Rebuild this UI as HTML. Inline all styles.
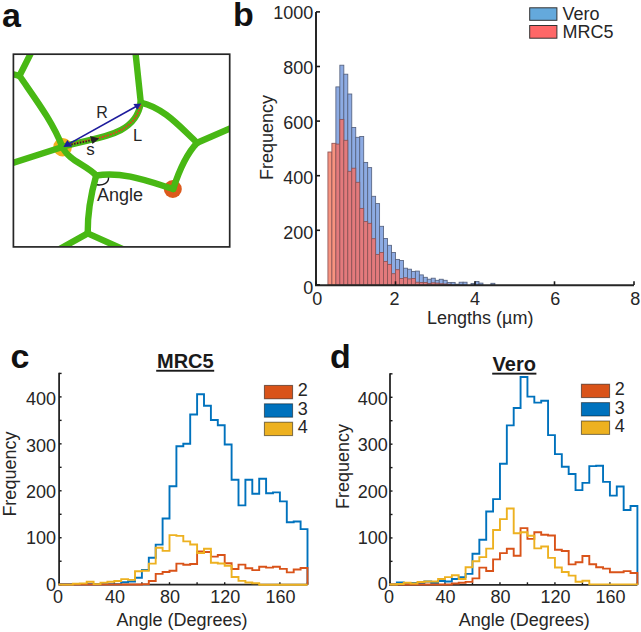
<!DOCTYPE html><html><head><meta charset="utf-8"><style>html,body{margin:0;padding:0;background:#fff;width:641px;height:632px;overflow:hidden}svg{display:block}text{font-family:"Liberation Sans", sans-serif}</style></head><body>
<svg width="641" height="632" viewBox="0 0 641 632">
<rect x="0" y="0" width="641" height="632" fill="#fff"/>
<text x="2.0" y="26.6" font-size="34" text-anchor="start" font-weight="bold" fill="#111" >a</text>
<text x="233.0" y="26.0" font-size="34" text-anchor="start" font-weight="bold" fill="#111" >b</text>
<text x="10.5" y="368.0" font-size="34" text-anchor="start" font-weight="bold" fill="#111" >c</text>
<text x="330.0" y="368.0" font-size="34" text-anchor="start" font-weight="bold" fill="#111" >d</text>
<defs><clipPath id="fr"><rect x="13.5" y="54.5" width="216" height="192"/></clipPath></defs>
<g clip-path="url(#fr)">
<circle cx="62.6" cy="147.2" r="9.3" fill="#F2B01E"/>
<circle cx="172.8" cy="189" r="9" fill="#DC5A1C"/>
<path d="M33.50,48.00 L19.50,75.80" fill="none" stroke="#48B814" stroke-width="6.4" stroke-linejoin="round" stroke-linecap="round"/>
<path d="M19.50,75.80 L10.00,73.50" fill="none" stroke="#48B814" stroke-width="6.4" stroke-linejoin="round" stroke-linecap="round"/>
<path d="M19.50,75.80 C35.05,98.64 52.34,120.99 62.40,147.00" fill="none" stroke="#48B814" stroke-width="6.4" stroke-linejoin="round" stroke-linecap="round"/>
<path d="M8.00,164.50 L62.40,147.00" fill="none" stroke="#48B814" stroke-width="6.4" stroke-linejoin="round" stroke-linecap="round"/>
<path d="M62.40,147.00 C69.02,161.19 86.07,164.70 96.20,175.50" fill="none" stroke="#48B814" stroke-width="6.4" stroke-linejoin="round" stroke-linecap="round"/>
<path d="M62.40,147.00 C89.15,137.24 135.44,139.16 140.80,102.60" fill="none" stroke="#48B814" stroke-width="6.4" stroke-linejoin="round" stroke-linecap="round"/>
<path d="M135.00,48.00 L140.80,102.60" fill="none" stroke="#48B814" stroke-width="6.4" stroke-linejoin="round" stroke-linecap="round"/>
<path d="M140.80,102.60 C164.24,107.86 180.32,127.34 197.20,142.80" fill="none" stroke="#48B814" stroke-width="6.4" stroke-linejoin="round" stroke-linecap="round"/>
<path d="M197.20,142.80 L236.00,126.00" fill="none" stroke="#48B814" stroke-width="6.4" stroke-linejoin="round" stroke-linecap="round"/>
<path d="M197.20,142.80 Q183.40,157.10 173.20,189.00" fill="none" stroke="#48B814" stroke-width="6.4" stroke-linejoin="round" stroke-linecap="round"/>
<path d="M96.20,175.50 C122.56,171.07 148.50,181.31 173.20,189.00" fill="none" stroke="#48B814" stroke-width="6.4" stroke-linejoin="round" stroke-linecap="round"/>
<path d="M96.20,175.50 C90.82,194.30 87.49,213.80 87.70,233.40" fill="none" stroke="#48B814" stroke-width="6.4" stroke-linejoin="round" stroke-linecap="round"/>
<path d="M87.70,233.40 L45.00,257.20" fill="none" stroke="#48B814" stroke-width="6.4" stroke-linejoin="round" stroke-linecap="round"/>
<path d="M87.70,233.40 L136.00,255.00" fill="none" stroke="#48B814" stroke-width="6.4" stroke-linejoin="round" stroke-linecap="round"/>
</g>
<rect x="13.4" y="54.2" width="216.3" height="192.7" fill="none" stroke="#262626" stroke-width="1.7"/>
<path d="M68.00,145.20 C93.68,137.44 133.97,137.29 140.60,104.50" fill="none" stroke="#E2401E" stroke-width="1.9" stroke-dasharray="1.7 1.2"/>
<path d="M67,145.4 L92,140.2" fill="none" stroke="#222" stroke-width="1.8" stroke-dasharray="1.4 1.5" stroke-dashoffset="1.4"/>
<path d="M99.2,138.6 L90,135.9 L92.5,144.0 Z" fill="#222"/>
<path d="M68,144.4 L136.5,106.3" fill="none" stroke="#1D1B9C" stroke-width="1.6"/>
<path d="M63.4,146.9 L67.3,139.9 L72.2,146.5 Z" fill="#1D1B9C"/>
<path d="M141.2,103.6 L133.4,104.0 L137.3,109.8 Z" fill="#1D1B9C"/>
<path d="M108.6,177.5 C108.6,183.2 103,185.6 97,184.8" fill="none" stroke="#1a1a1a" stroke-width="1.4"/>
<text x="96.3" y="118.1" font-size="16" text-anchor="start" font-weight="normal" fill="#262626" >R</text>
<text x="133.0" y="140.8" font-size="16.5" text-anchor="start" font-weight="normal" fill="#262626" >L</text>
<text x="86.3" y="155.4" font-size="17" text-anchor="start" font-weight="normal" fill="#262626" >s</text>
<text x="97.0" y="200.6" font-size="18" text-anchor="start" font-weight="normal" fill="#262626" >Angle</text>
<rect x="335.88" y="86.90" width="3.98" height="198.10" fill="#8DABE3" stroke="#56627F" stroke-width="0.85"/>
<rect x="339.85" y="65.20" width="3.98" height="219.80" fill="#8DABE3" stroke="#56627F" stroke-width="0.85"/>
<rect x="343.82" y="74.20" width="3.98" height="210.80" fill="#8DABE3" stroke="#56627F" stroke-width="0.85"/>
<rect x="347.80" y="94.00" width="3.98" height="191.00" fill="#8DABE3" stroke="#56627F" stroke-width="0.85"/>
<rect x="351.77" y="127.50" width="3.98" height="157.50" fill="#8DABE3" stroke="#56627F" stroke-width="0.85"/>
<rect x="355.75" y="137.30" width="3.98" height="147.70" fill="#8DABE3" stroke="#56627F" stroke-width="0.85"/>
<rect x="359.73" y="136.50" width="3.98" height="148.50" fill="#8DABE3" stroke="#56627F" stroke-width="0.85"/>
<rect x="363.70" y="162.40" width="3.98" height="122.60" fill="#8DABE3" stroke="#56627F" stroke-width="0.85"/>
<rect x="367.68" y="167.60" width="3.98" height="117.40" fill="#8DABE3" stroke="#56627F" stroke-width="0.85"/>
<rect x="371.65" y="196.30" width="3.98" height="88.70" fill="#8DABE3" stroke="#56627F" stroke-width="0.85"/>
<rect x="375.62" y="203.60" width="3.98" height="81.40" fill="#8DABE3" stroke="#56627F" stroke-width="0.85"/>
<rect x="379.60" y="226.30" width="3.98" height="58.70" fill="#8DABE3" stroke="#56627F" stroke-width="0.85"/>
<rect x="383.57" y="238.50" width="3.98" height="46.50" fill="#8DABE3" stroke="#56627F" stroke-width="0.85"/>
<rect x="387.55" y="245.30" width="3.98" height="39.70" fill="#8DABE3" stroke="#56627F" stroke-width="0.85"/>
<rect x="391.52" y="252.50" width="3.98" height="32.50" fill="#8DABE3" stroke="#56627F" stroke-width="0.85"/>
<rect x="395.50" y="259.40" width="3.98" height="25.60" fill="#8DABE3" stroke="#56627F" stroke-width="0.85"/>
<rect x="399.48" y="260.50" width="3.98" height="24.50" fill="#8DABE3" stroke="#56627F" stroke-width="0.85"/>
<rect x="403.45" y="268.20" width="3.98" height="16.80" fill="#8DABE3" stroke="#56627F" stroke-width="0.85"/>
<rect x="407.43" y="269.20" width="3.98" height="15.80" fill="#8DABE3" stroke="#56627F" stroke-width="0.85"/>
<rect x="411.40" y="271.40" width="3.98" height="13.60" fill="#8DABE3" stroke="#56627F" stroke-width="0.85"/>
<rect x="415.38" y="271.10" width="3.98" height="13.90" fill="#8DABE3" stroke="#56627F" stroke-width="0.85"/>
<rect x="419.35" y="274.90" width="3.98" height="10.10" fill="#8DABE3" stroke="#56627F" stroke-width="0.85"/>
<rect x="423.32" y="277.30" width="3.98" height="7.70" fill="#8DABE3" stroke="#56627F" stroke-width="0.85"/>
<rect x="427.30" y="279.20" width="3.98" height="5.80" fill="#8DABE3" stroke="#56627F" stroke-width="0.85"/>
<rect x="431.27" y="278.20" width="3.98" height="6.80" fill="#8DABE3" stroke="#56627F" stroke-width="0.85"/>
<rect x="435.25" y="280.30" width="3.98" height="4.70" fill="#8DABE3" stroke="#56627F" stroke-width="0.85"/>
<rect x="439.23" y="279.25" width="3.98" height="5.75" fill="#8DABE3" stroke="#56627F" stroke-width="0.85"/>
<rect x="443.20" y="280.30" width="3.98" height="4.70" fill="#8DABE3" stroke="#56627F" stroke-width="0.85"/>
<rect x="447.17" y="282.50" width="3.98" height="2.50" fill="#8DABE3" stroke="#56627F" stroke-width="0.85"/>
<rect x="451.15" y="282.40" width="3.98" height="2.60" fill="#8DABE3" stroke="#56627F" stroke-width="0.85"/>
<rect x="455.12" y="284.20" width="3.98" height="0.80" fill="#8DABE3" stroke="#56627F" stroke-width="0.85"/>
<rect x="459.10" y="282.20" width="3.98" height="2.80" fill="#8DABE3" stroke="#56627F" stroke-width="0.85"/>
<rect x="463.08" y="282.20" width="3.98" height="2.80" fill="#8DABE3" stroke="#56627F" stroke-width="0.85"/>
<rect x="471.02" y="283.40" width="3.98" height="1.60" fill="#8DABE3" stroke="#56627F" stroke-width="0.85"/>
<rect x="475.00" y="281.50" width="3.98" height="3.50" fill="#8DABE3" stroke="#56627F" stroke-width="0.85"/>
<rect x="478.98" y="283.10" width="3.98" height="1.90" fill="#8DABE3" stroke="#56627F" stroke-width="0.85"/>
<rect x="490.90" y="283.30" width="3.98" height="1.70" fill="#8DABE3" stroke="#56627F" stroke-width="0.85"/>
<rect x="327.93" y="152.00" width="3.98" height="133.00" fill="#F7937F" stroke="#8C5456" stroke-width="0.85"/>
<rect x="331.90" y="143.30" width="3.98" height="141.70" fill="#F7937F" stroke="#8C5456" stroke-width="0.85"/>
<rect x="335.88" y="144.10" width="3.98" height="140.90" fill="#E37A7C" stroke="#8C5456" stroke-width="0.85"/>
<rect x="339.85" y="119.40" width="3.98" height="165.60" fill="#E37A7C" stroke="#8C5456" stroke-width="0.85"/>
<rect x="343.82" y="140.30" width="3.98" height="144.70" fill="#E37A7C" stroke="#8C5456" stroke-width="0.85"/>
<rect x="347.80" y="171.30" width="3.98" height="113.70" fill="#E37A7C" stroke="#8C5456" stroke-width="0.85"/>
<rect x="351.77" y="168.20" width="3.98" height="116.80" fill="#E37A7C" stroke="#8C5456" stroke-width="0.85"/>
<rect x="355.75" y="182.30" width="3.98" height="102.70" fill="#E37A7C" stroke="#8C5456" stroke-width="0.85"/>
<rect x="359.73" y="208.40" width="3.98" height="76.60" fill="#E37A7C" stroke="#8C5456" stroke-width="0.85"/>
<rect x="363.70" y="221.60" width="3.98" height="63.40" fill="#E37A7C" stroke="#8C5456" stroke-width="0.85"/>
<rect x="367.68" y="223.30" width="3.98" height="61.70" fill="#E37A7C" stroke="#8C5456" stroke-width="0.85"/>
<rect x="371.65" y="238.70" width="3.98" height="46.30" fill="#E37A7C" stroke="#8C5456" stroke-width="0.85"/>
<rect x="375.62" y="254.40" width="3.98" height="30.60" fill="#E37A7C" stroke="#8C5456" stroke-width="0.85"/>
<rect x="379.60" y="252.50" width="3.98" height="32.50" fill="#E37A7C" stroke="#8C5456" stroke-width="0.85"/>
<rect x="383.57" y="261.40" width="3.98" height="23.60" fill="#E37A7C" stroke="#8C5456" stroke-width="0.85"/>
<rect x="387.55" y="264.40" width="3.98" height="20.60" fill="#E37A7C" stroke="#8C5456" stroke-width="0.85"/>
<rect x="391.52" y="273.70" width="3.98" height="11.30" fill="#E37A7C" stroke="#8C5456" stroke-width="0.85"/>
<rect x="395.50" y="269.70" width="3.98" height="15.30" fill="#E37A7C" stroke="#8C5456" stroke-width="0.85"/>
<rect x="399.48" y="278.50" width="3.98" height="6.50" fill="#E37A7C" stroke="#8C5456" stroke-width="0.85"/>
<rect x="403.45" y="277.70" width="3.98" height="7.30" fill="#E37A7C" stroke="#8C5456" stroke-width="0.85"/>
<rect x="407.43" y="278.90" width="3.98" height="6.10" fill="#E37A7C" stroke="#8C5456" stroke-width="0.85"/>
<rect x="411.40" y="278.50" width="3.98" height="6.50" fill="#E37A7C" stroke="#8C5456" stroke-width="0.85"/>
<rect x="415.38" y="282.20" width="3.98" height="2.80" fill="#E37A7C" stroke="#8C5456" stroke-width="0.85"/>
<rect x="419.35" y="282.50" width="3.98" height="2.50" fill="#E37A7C" stroke="#8C5456" stroke-width="0.85"/>
<rect x="423.32" y="282.50" width="3.98" height="2.50" fill="#E37A7C" stroke="#8C5456" stroke-width="0.85"/>
<rect x="427.30" y="283.50" width="3.98" height="1.50" fill="#E37A7C" stroke="#8C5456" stroke-width="0.85"/>
<rect x="431.27" y="282.80" width="3.98" height="2.20" fill="#E37A7C" stroke="#8C5456" stroke-width="0.85"/>
<rect x="435.25" y="283.10" width="3.98" height="1.90" fill="#E37A7C" stroke="#8C5456" stroke-width="0.85"/>
<rect x="439.23" y="283.75" width="3.98" height="1.25" fill="#E37A7C" stroke="#8C5456" stroke-width="0.85"/>
<rect x="443.20" y="284.00" width="3.98" height="1.00" fill="#E37A7C" stroke="#8C5456" stroke-width="0.85"/>
<rect x="447.17" y="284.30" width="3.98" height="0.70" fill="#E37A7C" stroke="#8C5456" stroke-width="0.85"/>
<path d="M316,11.9 L316,285.3 L634,285.3" fill="none" stroke="#262626" stroke-width="2"/>
<path d="M316,284.90 L320,284.90" stroke="#1a1a1a" stroke-width="1.6"/>
<path d="M316,230.30 L320,230.30" stroke="#1a1a1a" stroke-width="1.6"/>
<path d="M316,175.70 L320,175.70" stroke="#1a1a1a" stroke-width="1.6"/>
<path d="M316,121.10 L320,121.10" stroke="#1a1a1a" stroke-width="1.6"/>
<path d="M316,66.50 L320,66.50" stroke="#1a1a1a" stroke-width="1.6"/>
<path d="M316,11.90 L320,11.90" stroke="#1a1a1a" stroke-width="1.6"/>
<path d="M316.00,285 L316.00,281.3" stroke="#1a1a1a" stroke-width="1.6"/>
<path d="M395.50,285 L395.50,281.3" stroke="#1a1a1a" stroke-width="1.6"/>
<path d="M475.00,285 L475.00,281.3" stroke="#1a1a1a" stroke-width="1.6"/>
<path d="M554.50,285 L554.50,281.3" stroke="#1a1a1a" stroke-width="1.6"/>
<path d="M634.00,285 L634.00,281.3" stroke="#1a1a1a" stroke-width="1.6"/>
<text x="313.3" y="293.9" font-size="18" text-anchor="end" font-weight="normal" fill="#262626" >0</text>
<text x="313.3" y="238.84" font-size="18" text-anchor="end" font-weight="normal" fill="#262626" >200</text>
<text x="313.3" y="183.78" font-size="18" text-anchor="end" font-weight="normal" fill="#262626" >400</text>
<text x="313.3" y="128.72" font-size="18" text-anchor="end" font-weight="normal" fill="#262626" >600</text>
<text x="313.3" y="73.66" font-size="18" text-anchor="end" font-weight="normal" fill="#262626" >800</text>
<text x="313.3" y="18.6" font-size="18" text-anchor="end" font-weight="normal" fill="#262626" >1000</text>
<text x="317.3" y="305.0" font-size="18" text-anchor="middle" font-weight="normal" fill="#262626" >0</text>
<text x="394.6" y="305.0" font-size="18" text-anchor="middle" font-weight="normal" fill="#262626" >2</text>
<text x="474.9" y="305.0" font-size="18" text-anchor="middle" font-weight="normal" fill="#262626" >4</text>
<text x="555.3" y="305.0" font-size="18" text-anchor="middle" font-weight="normal" fill="#262626" >6</text>
<text x="635.3" y="305.0" font-size="18" text-anchor="middle" font-weight="normal" fill="#262626" >8</text>
<text x="427.0" y="323.7" font-size="18" text-anchor="start" font-weight="normal" fill="#262626" >Lengths (µm)</text>
<text x="272.8" y="137.4" font-size="18" text-anchor="middle" fill="#262626" transform="rotate(-90 272.8 137.4)" >Frequency</text>
<rect x="529.7" y="7.8" width="27.2" height="12.5" fill="#64A9DC" stroke="#333" stroke-width="1"/>
<rect x="529.7" y="25.5" width="27.2" height="12.7" fill="#FE6767" stroke="#333" stroke-width="1"/>
<text x="562.5" y="19.8" font-size="18" text-anchor="start" font-weight="normal" fill="#262626" >Vero</text>
<text x="562.5" y="37.5" font-size="18" text-anchor="start" font-weight="normal" fill="#262626" >MRC5</text>
<path d="M59.10,372.70 L59.10,584.70 L307.50,584.70" fill="none" stroke="#262626" stroke-width="1.8"/>
<path d="M59.10,584.70 L61.60,584.70" stroke="#1a1a1a" stroke-width="1.4"/>
<path d="M59.10,561.23 L61.60,561.23" stroke="#1a1a1a" stroke-width="1.4"/>
<path d="M59.10,537.75 L61.60,537.75" stroke="#1a1a1a" stroke-width="1.4"/>
<path d="M59.10,514.28 L61.60,514.28" stroke="#1a1a1a" stroke-width="1.4"/>
<path d="M59.10,490.80 L61.60,490.80" stroke="#1a1a1a" stroke-width="1.4"/>
<path d="M59.10,467.33 L61.60,467.33" stroke="#1a1a1a" stroke-width="1.4"/>
<path d="M59.10,443.85 L61.60,443.85" stroke="#1a1a1a" stroke-width="1.4"/>
<path d="M59.10,420.38 L61.60,420.38" stroke="#1a1a1a" stroke-width="1.4"/>
<path d="M59.10,396.90 L61.60,396.90" stroke="#1a1a1a" stroke-width="1.4"/>
<path d="M59.10,373.43 L61.60,373.43" stroke="#1a1a1a" stroke-width="1.4"/>
<path d="M59.10,584.70 L59.10,582.20" stroke="#1a1a1a" stroke-width="1.4"/>
<path d="M86.70,584.70 L86.70,582.20" stroke="#1a1a1a" stroke-width="1.4"/>
<path d="M114.30,584.70 L114.30,582.20" stroke="#1a1a1a" stroke-width="1.4"/>
<path d="M141.90,584.70 L141.90,582.20" stroke="#1a1a1a" stroke-width="1.4"/>
<path d="M169.50,584.70 L169.50,582.20" stroke="#1a1a1a" stroke-width="1.4"/>
<path d="M197.10,584.70 L197.10,582.20" stroke="#1a1a1a" stroke-width="1.4"/>
<path d="M224.70,584.70 L224.70,582.20" stroke="#1a1a1a" stroke-width="1.4"/>
<path d="M252.30,584.70 L252.30,582.20" stroke="#1a1a1a" stroke-width="1.4"/>
<path d="M279.90,584.70 L279.90,582.20" stroke="#1a1a1a" stroke-width="1.4"/>
<path d="M307.50,584.70 L307.50,582.20" stroke="#1a1a1a" stroke-width="1.4"/>
<path d="M59.10,584.70 L59.10,584.30 L66.00,584.30 L66.00,584.30 L72.90,584.30 L72.90,584.30 L79.80,584.30 L79.80,584.30 L86.70,584.30 L86.70,584.30 L93.60,584.30 L93.60,584.30 L100.50,584.30 L100.50,584.30 L107.40,584.30 L107.40,584.30 L114.30,584.30 L114.30,584.30 L121.20,584.30 L121.20,582.20 L128.10,582.20 L128.10,581.50 L135.00,581.50 L135.00,577.80 L141.90,577.80 L141.90,569.90 L148.80,569.90 L148.80,557.70 L155.70,557.70 L155.70,544.60 L162.60,544.60 L162.60,518.50 L169.50,518.50 L169.50,486.20 L176.40,486.20 L176.40,446.20 L183.30,446.20 L183.30,443.80 L190.20,443.80 L190.20,414.50 L197.10,414.50 L197.10,394.20 L204.00,394.20 L204.00,405.70 L210.90,405.70 L210.90,420.00 L217.80,420.00 L217.80,425.30 L224.70,425.30 L224.70,444.50 L231.60,444.50 L231.60,479.70 L238.50,479.70 L238.50,505.40 L245.40,505.40 L245.40,479.70 L252.30,479.70 L252.30,493.80 L259.20,493.80 L259.20,478.80 L266.10,478.80 L266.10,493.20 L273.00,493.20 L273.00,492.40 L279.90,492.40 L279.90,501.40 L286.80,501.40 L286.80,522.30 L293.70,522.30 L293.70,521.50 L300.60,521.50 L300.60,529.10 L307.50,529.10 L307.50,584.70" fill="none" stroke="#0072BD" stroke-width="1.9" stroke-linejoin="miter"/>
<path d="M59.10,584.70 L59.10,584.50 L66.00,584.50 L66.00,584.50 L72.90,584.50 L72.90,584.50 L79.80,584.50 L79.80,584.50 L86.70,584.50 L86.70,584.50 L93.60,584.50 L93.60,584.50 L100.50,584.50 L100.50,584.50 L107.40,584.50 L107.40,584.50 L114.30,584.50 L114.30,584.50 L121.20,584.50 L121.20,584.50 L128.10,584.50 L128.10,584.50 L135.00,584.50 L135.00,584.50 L141.90,584.50 L141.90,584.10 L148.80,584.10 L148.80,581.00 L155.70,581.00 L155.70,573.90 L162.60,573.90 L162.60,572.00 L169.50,572.00 L169.50,570.70 L176.40,570.70 L176.40,563.60 L183.30,563.60 L183.30,564.70 L190.20,564.70 L190.20,564.00 L197.10,564.00 L197.10,551.50 L204.00,551.50 L204.00,552.00 L210.90,552.00 L210.90,556.60 L217.80,556.60 L217.80,555.00 L224.70,555.00 L224.70,563.20 L231.60,563.20 L231.60,569.00 L238.50,569.00 L238.50,564.60 L245.40,564.60 L245.40,568.20 L252.30,568.20 L252.30,570.10 L259.20,570.10 L259.20,566.70 L266.10,566.70 L266.10,567.60 L273.00,567.60 L273.00,566.70 L279.90,566.70 L279.90,568.90 L286.80,568.90 L286.80,572.40 L293.70,572.40 L293.70,569.50 L300.60,569.50 L300.60,568.00 L307.50,568.00 L307.50,584.70" fill="none" stroke="#D95319" stroke-width="1.9" stroke-linejoin="miter"/>
<path d="M59.10,584.70 L59.10,584.60 L66.00,584.60 L66.00,584.60 L72.90,584.60 L72.90,583.80 L79.80,583.80 L79.80,583.40 L86.70,583.40 L86.70,581.80 L93.60,581.80 L93.60,584.10 L100.50,584.10 L100.50,582.60 L107.40,582.60 L107.40,581.80 L114.30,581.80 L114.30,581.00 L121.20,581.00 L121.20,579.10 L128.10,579.10 L128.10,579.90 L135.00,579.90 L135.00,571.20 L141.90,571.20 L141.90,570.70 L148.80,570.70 L148.80,563.60 L155.70,563.60 L155.70,547.80 L162.60,547.80 L162.60,550.90 L169.50,550.90 L169.50,535.10 L176.40,535.10 L176.40,535.90 L183.30,535.90 L183.30,541.40 L190.20,541.40 L190.20,544.50 L197.10,544.50 L197.10,553.00 L204.00,553.00 L204.00,548.80 L210.90,548.80 L210.90,562.80 L217.80,562.80 L217.80,563.50 L224.70,563.50 L224.70,565.70 L231.60,565.70 L231.60,577.00 L238.50,577.00 L238.50,580.90 L245.40,580.90 L245.40,582.50 L252.30,582.50 L252.30,583.20 L259.20,583.20 L259.20,584.70 L266.10,584.70 L266.10,584.70 L273.00,584.70 L273.00,584.70 L279.90,584.70 L279.90,584.70 L286.80,584.70 L286.80,584.70 L293.70,584.70 L293.70,584.70 L300.60,584.70 L300.60,584.70 L307.50,584.70 L307.50,584.70" fill="none" stroke="#EDB120" stroke-width="1.9" stroke-linejoin="miter"/>
<text x="56.1" y="590.6" font-size="18" text-anchor="end" font-weight="normal" fill="#262626" >0</text>
<text x="56.1" y="544.25" font-size="18" text-anchor="end" font-weight="normal" fill="#262626" >100</text>
<text x="56.1" y="497.9" font-size="18" text-anchor="end" font-weight="normal" fill="#262626" >200</text>
<text x="56.1" y="451.55" font-size="18" text-anchor="end" font-weight="normal" fill="#262626" >300</text>
<text x="56.1" y="405.2" font-size="18" text-anchor="end" font-weight="normal" fill="#262626" >400</text>
<text x="58.1" y="603.2" font-size="18" text-anchor="middle" font-weight="normal" fill="#262626" >0</text>
<text x="114.9" y="603.2" font-size="18" text-anchor="middle" font-weight="normal" fill="#262626" >40</text>
<text x="170.1" y="603.2" font-size="18" text-anchor="middle" font-weight="normal" fill="#262626" >80</text>
<text x="225.3" y="603.2" font-size="18" text-anchor="middle" font-weight="normal" fill="#262626" >120</text>
<text x="280.5" y="603.2" font-size="18" text-anchor="middle" font-weight="normal" fill="#262626" >160</text>
<text x="116.4" y="625.6" font-size="18" text-anchor="start" font-weight="normal" fill="#262626" >Angle (Degrees)</text>
<text x="16.1" y="474.1" font-size="18" text-anchor="middle" fill="#262626" transform="rotate(-90 16.1 474.1)">Frequency</text>
<text x="157.0" y="368.1" font-size="20" font-weight="bold" text-anchor="start" fill="#1a1a1a">MRC5</text>
<rect x="156.2" y="369.8" width="58.0" height="1.9" fill="#1a1a1a"/>
<rect x="264.4" y="385.40" width="28.2" height="13.4" fill="#D95319" stroke="rgba(0,0,0,0.5)" stroke-width="1"/>
<text x="297.7" y="396.4" font-size="18" text-anchor="start" font-weight="normal" fill="#262626" >2</text>
<rect x="264.4" y="403.80" width="28.2" height="13.4" fill="#0072BD" stroke="rgba(0,0,0,0.5)" stroke-width="1"/>
<text x="297.7" y="414.8" font-size="18" text-anchor="start" font-weight="normal" fill="#262626" >3</text>
<rect x="264.4" y="422.20" width="28.2" height="13.4" fill="#EDB120" stroke="rgba(0,0,0,0.5)" stroke-width="1"/>
<text x="297.7" y="433.2" font-size="18" text-anchor="start" font-weight="normal" fill="#262626" >4</text>
<path d="M390.00,373.30 L390.00,584.80 L637.40,584.80" fill="none" stroke="#262626" stroke-width="1.8"/>
<path d="M390.00,584.80 L392.50,584.80" stroke="#1a1a1a" stroke-width="1.4"/>
<path d="M390.00,561.36 L392.50,561.36" stroke="#1a1a1a" stroke-width="1.4"/>
<path d="M390.00,537.92 L392.50,537.92" stroke="#1a1a1a" stroke-width="1.4"/>
<path d="M390.00,514.48 L392.50,514.48" stroke="#1a1a1a" stroke-width="1.4"/>
<path d="M390.00,491.04 L392.50,491.04" stroke="#1a1a1a" stroke-width="1.4"/>
<path d="M390.00,467.60 L392.50,467.60" stroke="#1a1a1a" stroke-width="1.4"/>
<path d="M390.00,444.16 L392.50,444.16" stroke="#1a1a1a" stroke-width="1.4"/>
<path d="M390.00,420.72 L392.50,420.72" stroke="#1a1a1a" stroke-width="1.4"/>
<path d="M390.00,397.28 L392.50,397.28" stroke="#1a1a1a" stroke-width="1.4"/>
<path d="M390.00,373.84 L392.50,373.84" stroke="#1a1a1a" stroke-width="1.4"/>
<path d="M390.00,584.80 L390.00,582.30" stroke="#1a1a1a" stroke-width="1.4"/>
<path d="M417.49,584.80 L417.49,582.30" stroke="#1a1a1a" stroke-width="1.4"/>
<path d="M444.98,584.80 L444.98,582.30" stroke="#1a1a1a" stroke-width="1.4"/>
<path d="M472.47,584.80 L472.47,582.30" stroke="#1a1a1a" stroke-width="1.4"/>
<path d="M499.96,584.80 L499.96,582.30" stroke="#1a1a1a" stroke-width="1.4"/>
<path d="M527.44,584.80 L527.44,582.30" stroke="#1a1a1a" stroke-width="1.4"/>
<path d="M554.93,584.80 L554.93,582.30" stroke="#1a1a1a" stroke-width="1.4"/>
<path d="M582.42,584.80 L582.42,582.30" stroke="#1a1a1a" stroke-width="1.4"/>
<path d="M609.91,584.80 L609.91,582.30" stroke="#1a1a1a" stroke-width="1.4"/>
<path d="M637.40,584.80 L637.40,582.30" stroke="#1a1a1a" stroke-width="1.4"/>
<path d="M390.00,584.80 L390.00,584.50 L396.87,584.50 L396.87,582.50 L403.74,582.50 L403.74,583.00 L410.62,583.00 L410.62,583.00 L417.49,583.00 L417.49,583.50 L424.36,583.50 L424.36,581.50 L431.23,581.50 L431.23,583.00 L438.11,583.00 L438.11,581.00 L444.98,581.00 L444.98,581.50 L451.85,581.50 L451.85,579.00 L458.72,579.00 L458.72,577.10 L465.59,577.10 L465.59,573.90 L472.47,573.90 L472.47,553.70 L479.34,553.70 L479.34,539.70 L486.21,539.70 L486.21,511.50 L493.08,511.50 L493.08,499.10 L499.96,499.10 L499.96,463.70 L506.83,463.70 L506.83,425.40 L513.70,425.40 L513.70,408.00 L520.57,408.00 L520.57,377.00 L527.44,377.00 L527.44,396.60 L534.32,396.60 L534.32,402.60 L541.19,402.60 L541.19,400.70 L548.06,400.70 L548.06,435.10 L554.93,435.10 L554.93,454.10 L561.81,454.10 L561.81,466.80 L568.68,466.80 L568.68,474.00 L575.55,474.00 L575.55,490.10 L582.42,490.10 L582.42,482.90 L589.29,482.90 L589.29,466.10 L596.17,466.10 L596.17,465.80 L603.04,465.80 L603.04,481.90 L609.91,481.90 L609.91,495.60 L616.78,495.60 L616.78,486.50 L623.66,486.50 L623.66,510.00 L630.53,510.00 L630.53,506.00 L637.40,506.00 L637.40,584.80" fill="none" stroke="#0072BD" stroke-width="1.9" stroke-linejoin="miter"/>
<path d="M390.00,584.80 L390.00,584.50 L396.87,584.50 L396.87,584.50 L403.74,584.50 L403.74,584.50 L410.62,584.50 L410.62,584.50 L417.49,584.50 L417.49,584.50 L424.36,584.50 L424.36,584.50 L431.23,584.50 L431.23,584.50 L438.11,584.50 L438.11,584.50 L444.98,584.50 L444.98,584.50 L451.85,584.50 L451.85,583.50 L458.72,583.50 L458.72,582.80 L465.59,582.80 L465.59,581.90 L472.47,581.90 L472.47,578.40 L479.34,578.40 L479.34,567.60 L486.21,567.60 L486.21,571.00 L493.08,571.00 L493.08,559.40 L499.96,559.40 L499.96,553.10 L506.83,553.10 L506.83,548.80 L513.70,548.80 L513.70,555.70 L520.57,555.70 L520.57,528.10 L527.44,528.10 L527.44,538.90 L534.32,538.90 L534.32,532.20 L541.19,532.20 L541.19,534.70 L548.06,534.70 L548.06,535.50 L554.93,535.50 L554.93,549.70 L561.81,549.70 L561.81,551.00 L568.68,551.00 L568.68,564.40 L575.55,564.40 L575.55,562.20 L582.42,562.20 L582.42,556.00 L589.29,556.00 L589.29,564.20 L596.17,564.20 L596.17,567.30 L603.04,567.30 L603.04,568.60 L609.91,568.60 L609.91,572.30 L616.78,572.30 L616.78,572.30 L623.66,572.30 L623.66,571.10 L630.53,571.10 L630.53,573.00 L637.40,573.00 L637.40,584.80" fill="none" stroke="#D95319" stroke-width="1.9" stroke-linejoin="miter"/>
<path d="M390.00,584.80 L390.00,584.50 L396.87,584.50 L396.87,584.00 L403.74,584.00 L403.74,582.70 L410.62,582.70 L410.62,583.50 L417.49,583.50 L417.49,582.00 L424.36,582.00 L424.36,581.50 L431.23,581.50 L431.23,581.50 L438.11,581.50 L438.11,579.00 L444.98,579.00 L444.98,577.10 L451.85,577.10 L451.85,575.20 L458.72,575.20 L458.72,579.00 L465.59,579.00 L465.59,567.20 L472.47,567.20 L472.47,561.30 L479.34,561.30 L479.34,557.10 L486.21,557.10 L486.21,548.60 L493.08,548.60 L493.08,530.00 L499.96,530.00 L499.96,519.10 L506.83,519.10 L506.83,508.50 L513.70,508.50 L513.70,533.20 L520.57,533.20 L520.57,532.20 L527.44,532.20 L527.44,535.70 L534.32,535.70 L534.32,548.40 L541.19,548.40 L541.19,546.50 L548.06,546.50 L548.06,557.90 L554.93,557.90 L554.93,567.50 L561.81,567.50 L561.81,572.00 L568.68,572.00 L568.68,575.60 L575.55,575.60 L575.55,581.70 L582.42,581.70 L582.42,580.70 L589.29,580.70 L589.29,584.40 L596.17,584.40 L596.17,584.40 L603.04,584.40 L603.04,584.40 L609.91,584.40 L609.91,584.40 L616.78,584.40 L616.78,584.40 L623.66,584.40 L623.66,584.40 L630.53,584.40 L630.53,584.40 L637.40,584.40 L637.40,584.80" fill="none" stroke="#EDB120" stroke-width="1.9" stroke-linejoin="miter"/>
<text x="387.8" y="589.9" font-size="18" text-anchor="end" font-weight="normal" fill="#262626" >0</text>
<text x="387.8" y="543.7" font-size="18" text-anchor="end" font-weight="normal" fill="#262626" >100</text>
<text x="387.8" y="497.5" font-size="18" text-anchor="end" font-weight="normal" fill="#262626" >200</text>
<text x="387.8" y="451.3" font-size="18" text-anchor="end" font-weight="normal" fill="#262626" >300</text>
<text x="387.8" y="405.1" font-size="18" text-anchor="end" font-weight="normal" fill="#262626" >400</text>
<text x="389.0" y="602.8" font-size="18" text-anchor="middle" font-weight="normal" fill="#262626" >0</text>
<text x="445.58" y="602.8" font-size="18" text-anchor="middle" font-weight="normal" fill="#262626" >40</text>
<text x="500.56" y="602.8" font-size="18" text-anchor="middle" font-weight="normal" fill="#262626" >80</text>
<text x="555.53" y="602.8" font-size="18" text-anchor="middle" font-weight="normal" fill="#262626" >120</text>
<text x="610.51" y="602.8" font-size="18" text-anchor="middle" font-weight="normal" fill="#262626" >160</text>
<text x="458.8" y="625.9" font-size="18" text-anchor="start" font-weight="normal" fill="#262626" >Angle (Degrees)</text>
<text x="349.3" y="466.5" font-size="18" text-anchor="middle" fill="#262626" transform="rotate(-90 349.3 466.5)">Frequency</text>
<text x="492.6" y="370.6" font-size="20" font-weight="bold" text-anchor="start" fill="#1a1a1a">Vero</text>
<rect x="492.2" y="372.7" width="44.2" height="1.9" fill="#1a1a1a"/>
<rect x="581.4000000000001" y="384.20" width="28.2" height="13.4" fill="#D95319" stroke="rgba(0,0,0,0.5)" stroke-width="1"/>
<text x="614.7" y="395.2" font-size="18" text-anchor="start" font-weight="normal" fill="#262626" >2</text>
<rect x="581.4000000000001" y="402.60" width="28.2" height="13.4" fill="#0072BD" stroke="rgba(0,0,0,0.5)" stroke-width="1"/>
<text x="614.7" y="413.6" font-size="18" text-anchor="start" font-weight="normal" fill="#262626" >3</text>
<rect x="581.4000000000001" y="421.00" width="28.2" height="13.4" fill="#EDB120" stroke="rgba(0,0,0,0.5)" stroke-width="1"/>
<text x="614.7" y="432.0" font-size="18" text-anchor="start" font-weight="normal" fill="#262626" >4</text>
</svg></body></html>
